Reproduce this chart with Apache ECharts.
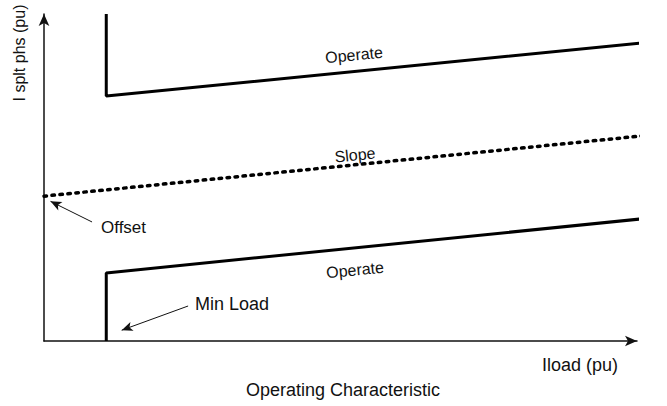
<!DOCTYPE html>
<html>
<head>
<meta charset="utf-8">
<script src="https://cdn.jsdelivr.net/npm/echarts@6/dist/echarts.min.js"></script>
<style>
  html, body { margin: 0; padding: 0; background: #fff; }
  #chart { width: 667px; height: 406px; }
</style>
</head>
<body>
<div id="chart"></div>
<script>
// curve points in (Iload, I splt phs) units
var upperOperate = [[1.05, 10.0], [1.05, 7.49], [10.05, 9.11]];
var slopeLine = [[0, 4.43], [10.07, 6.27]];
var lowerOperate = [[1.05, 0], [1.05, 2.08], [10.05, 3.73]];

// annotation arrows: [from, to]
var offsetArrow = [[0.81, 3.64], [0.11, 4.27]];
var minLoadArrow = [[2.43, 1.07], [1.31, 0.33]];

var font = "'Liberation Sans', Arial, sans-serif";
var ink = '#111';

function txt(text, x, y, size, align, rot) {
    return {
        type: 'text',
        x: x, y: y,
        rotation: rot || 0,
        style: {
            text: text,
            fill: ink,
            font: size + 'px ' + font,
            textAlign: align || 'center',
            textVerticalAlign: 'middle'
        }
    };
}

var chart = echarts.init(document.getElementById('chart'), null, {renderer: 'svg'});

var option = {
    animation: false,
    backgroundColor: '#fff',
    grid: {left: 44, right: 30, top: 14, bottom: 65},
    xAxis: {
        type: 'value', min: 0, max: 10,
        axisLine: {
            show: true, symbol: ['none', 'arrow'], symbolSize: [8, 12],
            lineStyle: {color: ink, width: 1.5}
        },
        axisTick: {show: false}, axisLabel: {show: false}, splitLine: {show: false}
    },
    yAxis: {
        type: 'value', min: 0, max: 10,
        axisLine: {
            show: true, symbol: ['none', 'arrow'], symbolSize: [8, 12],
            lineStyle: {color: ink, width: 1.5}
        },
        axisTick: {show: false}, axisLabel: {show: false}, splitLine: {show: false}
    },
    series: [
        {
            type: 'line', data: upperOperate, symbol: 'none', clip: false,
            lineStyle: {color: '#000', width: 3}
        },
        {
            type: 'line', data: slopeLine, symbol: 'none', clip: false,
            lineStyle: {color: '#000', width: 3.5, type: [2.5, 5.5], cap: 'round'}
        },
        {
            type: 'line', data: lowerOperate, symbol: 'none', clip: false,
            lineStyle: {color: '#000', width: 3},
            markLine: {
                silent: true,
                symbol: ['none', 'arrow'],
                symbolSize: [7, 11],
                label: {show: false},
                lineStyle: {color: ink, width: 1, type: 'solid'},
                data: [
                    [{coord: offsetArrow[0]}, {coord: offsetArrow[1]}],
                    [{coord: minLoadArrow[0]}, {coord: minLoadArrow[1]}]
                ]
            }
        }
    ],
    graphic: [
        txt('I splt phs (pu)', 19, 53, 16, 'center', Math.PI / 2),
        txt('Operate', 354, 55, 16, 'center', 0.099),
        txt('Slope', 355, 155, 16, 'center', 0.1),
        txt('Operate', 355, 270, 16, 'center', 0.099),
        txt('Offset', 101, 227, 17, 'left'),
        txt('Min Load', 195, 304, 18, 'left'),
        txt('Iload (pu)', 580, 365, 18, 'center'),
        txt('Operating Characteristic', 343, 390, 18, 'center')
    ]
};

chart.setOption(option);
</script>
</body>
</html>
